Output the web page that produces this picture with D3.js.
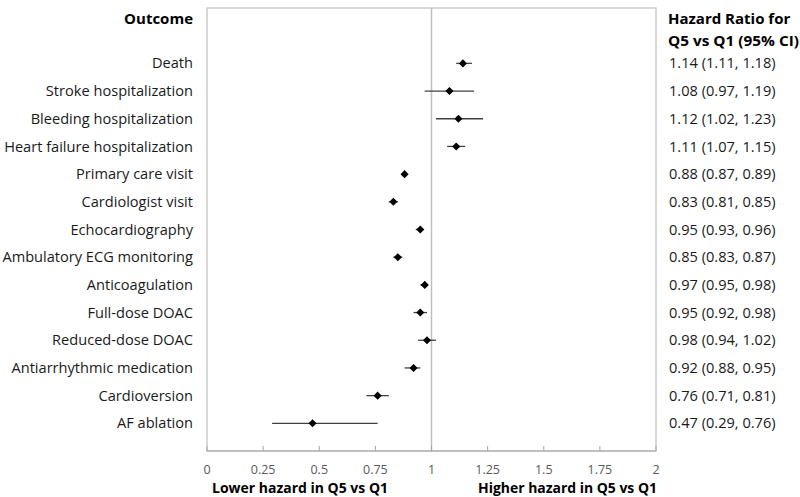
<!DOCTYPE html>
<html><head><meta charset="utf-8">
<script src="https://cdn.jsdelivr.net/npm/d3@7"></script>
<style>body{margin:0;background:#fff;} svg{display:block;} text{font-family:"Open Sans",sans-serif;}</style>
</head><body><div id="chart"></div>
<script>
const outcomes = ["Death","Stroke hospitalization","Bleeding hospitalization","Heart failure hospitalization","Primary care visit","Cardiologist visit","Echocardiography","Ambulatory ECG monitoring","Anticoagulation","Full-dose DOAC","Reduced-dose DOAC","Antiarrhythmic medication","Cardioversion","AF ablation"];
const hr    = [1.14,1.08,1.12,1.11,0.88,0.83,0.95,0.85,0.97,0.95,0.98,0.92,0.76,0.47];
const lower = [1.11,0.97,1.02,1.07,0.87,0.81,0.93,0.83,0.95,0.92,0.94,0.88,0.71,0.29];
const upper = [1.18,1.19,1.23,1.15,0.89,0.85,0.96,0.87,0.98,0.98,1.02,0.95,0.81,0.76];
const ciLabels = ["1.14 (1.11, 1.18)","1.08 (0.97, 1.19)","1.12 (1.02, 1.23)","1.11 (1.07, 1.15)","0.88 (0.87, 0.89)","0.83 (0.81, 0.85)","0.95 (0.93, 0.96)","0.85 (0.83, 0.87)","0.97 (0.95, 0.98)","0.95 (0.92, 0.98)","0.98 (0.94, 1.02)","0.92 (0.88, 0.95)","0.76 (0.71, 0.81)","0.47 (0.29, 0.76)"];
const xTicks = [0,0.25,0.5,0.75,1,1.25,1.5,1.75,2];
const xTickLabels = ["0","0.25","0.5","0.75","1","1.25","1.5","1.75","2"];

const W=800,H=497;
const svg=d3.select("#chart").append("svg").attr("width",W).attr("height",H);
const x=d3.scaleLinear().domain([0,2]).range([207,656]);
const y=d3.scaleLinear().domain([0,16]).range([8,451]);
const fs=14.6;

svg.append("rect").attr("x",x(0)).attr("y",y(0)).attr("width",x(2)-x(0)).attr("height",y(16)-y(0))
  .attr("fill","none").attr("stroke","#bfbfbf").attr("stroke-width",1.2);
svg.append("line").attr("x1",x(1)).attr("x2",x(1)).attr("y1",y(0)).attr("y2",y(16)).attr("stroke","#bfbfbf").attr("stroke-width",1.5);
svg.append("line").attr("x1",x(0)).attr("x2",x(2)).attr("y1",y(16)).attr("y2",y(16)).attr("stroke","#a6a6a6").attr("stroke-width",1.2);
svg.selectAll(".tk").data(xTicks).enter().append("line")
  .attr("x1",d=>x(d)).attr("x2",d=>x(d)).attr("y1",y(16)).attr("y2",y(16)-5).attr("stroke","#a6a6a6").attr("stroke-width",1);
svg.selectAll(".tl").data(xTicks).enter().append("text")
  .attr("x",d=>x(d)).attr("y",474).attr("text-anchor","middle").attr("font-size",12.5).attr("fill","#595959")
  .text((d,i)=>xTickLabels[i]);

svg.selectAll(".eb").data(outcomes).enter().append("line")
  .attr("x1",(d,i)=>x(lower[i])).attr("x2",(d,i)=>x(upper[i]))
  .attr("y1",(d,i)=>y(i+2)).attr("y2",(d,i)=>y(i+2)).attr("stroke","#404040").attr("stroke-width",1.3);
svg.selectAll(".pt").data(outcomes).enter().append("path")
  .attr("d",d3.symbol().type(d3.symbolDiamond2 || d3.symbolDiamond).size(42))
  .attr("transform",(d,i)=>`translate(${x(hr[i])},${y(i+2)})`).attr("fill","#000");

svg.selectAll(".lab").data(outcomes).enter().append("text")
  .attr("x",193).attr("y",(d,i)=>y(i+2)).attr("dy","0.35em").attr("text-anchor","end")
  .attr("font-size",fs).attr("fill","#1a1a1a").text(d=>d);
svg.selectAll(".ci").data(ciLabels).enter().append("text")
  .attr("x",669).attr("y",(d,i)=>y(i+2)).attr("dy","0.35em")
  .attr("font-size",fs).attr("fill","#1a1a1a").text(d=>d);

const hb=15;
svg.append("text").attr("x",193).attr("y",19).attr("dy","0.35em").attr("text-anchor","end").attr("font-size",hb).attr("font-weight","bold").text("Outcome");
svg.append("text").attr("x",668).attr("y",19).attr("dy","0.35em").attr("font-size",hb).attr("font-weight","bold").text("Hazard Ratio for");
svg.append("text").attr("x",668).attr("y",41).attr("dy","0.35em").attr("font-size",hb).attr("font-weight","bold").attr("textLength",131).attr("lengthAdjust","spacingAndGlyphs").text("Q5 vs Q1 (95% CI)");
svg.append("text").attr("x",212).attr("y",493).attr("font-size",hb).attr("font-weight","bold").attr("textLength",176).attr("lengthAdjust","spacingAndGlyphs").text("Lower hazard in Q5 vs Q1");
svg.append("text").attr("x",478).attr("y",493).attr("font-size",hb).attr("font-weight","bold").attr("textLength",179).attr("lengthAdjust","spacingAndGlyphs").text("Higher hazard in Q5 vs Q1");
</script></body></html>
